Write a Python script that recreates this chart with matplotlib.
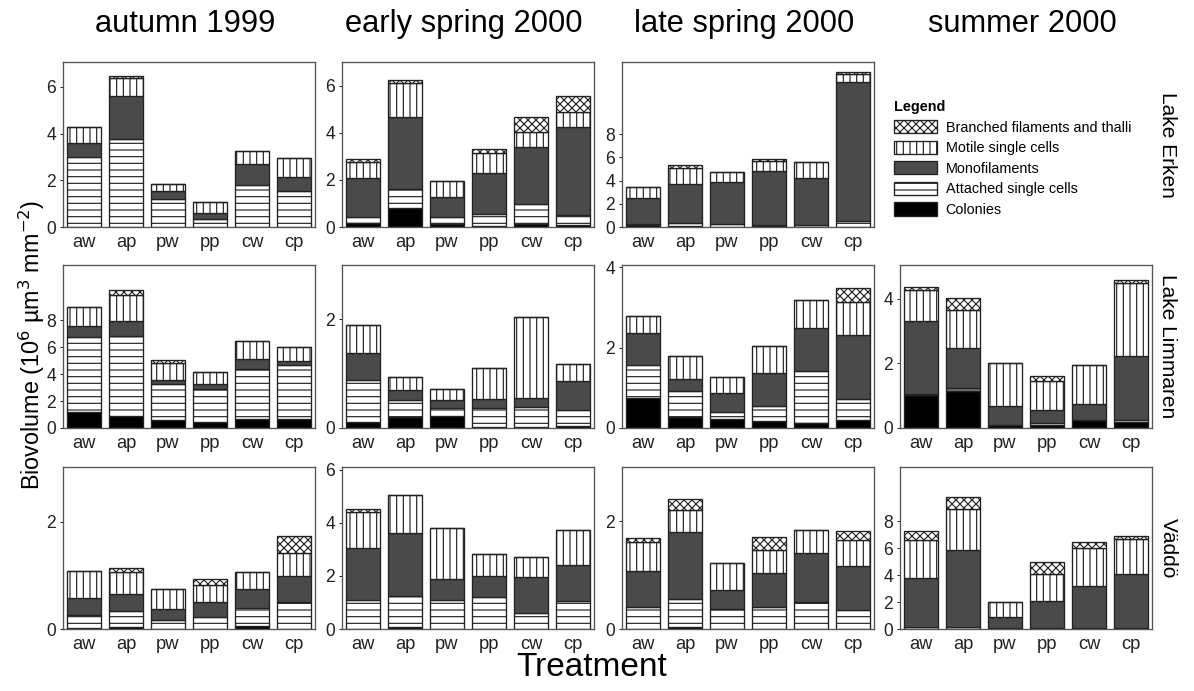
import matplotlib.pyplot as plt
from matplotlib.patches import Patch

plt.rcParams['font.family'] = ['Liberation Sans', 'DejaVu Sans']
plt.rcParams['hatch.linewidth'] = 0.7

treatments = ['aw', 'ap', 'pw', 'pp', 'cw', 'cp']
seasons = ['autumn 1999', 'early spring 2000', 'late spring 2000', 'summer 2000']
lakes = ['Lake Erken', 'Lake Limmaren', 'Väddö']
components = ['Colonies', 'Attached single cells', 'Monofilaments',
              'Motile single cells', 'Branched filaments and thalli']

# segment heights per panel, rows: colonies, attached, mono, motile, branched
erken_autumn = [
    [0, 0, 0, 0, 0, 0],
    [3.0, 3.75, 1.2, 0.35, 1.8, 1.55],
    [0.6, 1.85, 0.35, 0.27, 0.92, 0.6],
    [0.7, 0.8, 0.3, 0.46, 0.53, 0.8],
    [0, 0.05, 0, 0, 0, 0],
]
erken_early = [
    [0.18, 0.82, 0.11, 0.05, 0.12, 0.1],
    [0.24, 0.81, 0.31, 0.49, 0.84, 0.4],
    [1.68, 3.05, 0.86, 1.77, 2.42, 3.73],
    [0.67, 1.42, 0.68, 0.82, 0.66, 0.66],
    [0.11, 0.14, 0, 0.17, 0.64, 0.68],
]
erken_late = [
    [0.2, 0.1, 0, 0.1, 0, 0],
    [0.1, 0.28, 0.22, 0.1, 0.2, 0.52],
    [2.2, 3.33, 3.64, 4.61, 4.0, 11.98],
    [0.92, 1.36, 0.86, 0.84, 1.4, 0.7],
    [0, 0.29, 0, 0.18, 0, 0.15],
]
limmaren_autumn = [
    [1.19, 0.89, 0.57, 0.45, 0.69, 0.7],
    [5.57, 5.91, 2.72, 2.47, 3.71, 3.95],
    [0.81, 1.15, 0.25, 0.37, 0.75, 0.3],
    [1.42, 1.95, 1.31, 0.87, 1.29, 1.06],
    [0, 0.32, 0.2, 0, 0, 0],
]
limmaren_early = [
    [0.11, 0.2, 0.22, 0.02, 0.02, 0.03],
    [0.77, 0.31, 0.15, 0.34, 0.37, 0.31],
    [0.5, 0.19, 0.15, 0.18, 0.16, 0.53],
    [0.52, 0.24, 0.19, 0.57, 1.49, 0.3],
    [0, 0, 0, 0, 0, 0],
]
limmaren_late = [
    [0.75, 0.28, 0.23, 0.17, 0.13, 0.19],
    [0.82, 0.64, 0.17, 0.38, 1.29, 0.53],
    [0.79, 0.29, 0.48, 0.81, 1.06, 1.6],
    [0.43, 0.57, 0.38, 0.67, 0.71, 0.81],
    [0, 0, 0, 0, 0, 0.34],
]
limmaren_summer = [
    [1.02, 1.14, 0.08, 0.1, 0.25, 0.2],
    [0.04, 0.1, 0, 0.05, 0, 0.05],
    [2.26, 1.23, 0.59, 0.4, 0.5, 1.98],
    [0.96, 1.19, 1.33, 0.9, 1.2, 2.27],
    [0.1, 0.36, 0, 0.15, 0, 0.1],
]
vaddo_autumn = [
    [0.02, 0.04, 0, 0, 0.06, 0],
    [0.25, 0.3, 0.17, 0.23, 0.33, 0.5],
    [0.31, 0.31, 0.2, 0.28, 0.35, 0.48],
    [0.5, 0.42, 0.38, 0.31, 0.33, 0.43],
    [0, 0.06, 0, 0.11, 0, 0.33],
]
vaddo_early = [
    [0, 0.08, 0, 0, 0, 0],
    [1.1, 1.17, 1.1, 1.21, 0.59, 1.04],
    [1.96, 2.35, 0.78, 0.79, 1.37, 1.37],
    [1.34, 1.46, 1.91, 0.81, 0.75, 1.3],
    [0.12, 0, 0, 0, 0, 0],
]
vaddo_late = [
    [0, 0.04, 0, 0, 0, 0],
    [0.4, 0.51, 0.37, 0.4, 0.5, 0.35],
    [0.67, 1.24, 0.36, 0.63, 0.91, 0.82],
    [0.54, 0.42, 0.49, 0.44, 0.42, 0.48],
    [0.07, 0.19, 0, 0.24, 0, 0.17],
]
vaddo_summer = [
    [0, 0, 0, 0, 0, 0],
    [0.12, 0.15, 0.05, 0.05, 0.05, 0.05],
    [3.7, 5.76, 0.81, 2.02, 3.13, 4.02],
    [2.78, 3.01, 1.16, 2.0, 2.82, 2.6],
    [0.7, 0.93, 0, 0.89, 0.5, 0.23],
]

# (row, col) -> data, y upper limit, y ticks
panels = {
    (0, 0): (erken_autumn, 7.07, [0, 2, 4, 6]),
    (0, 1): (erken_early, 7.0, [0, 2, 4, 6]),
    (0, 2): (erken_late, 14.2, [0, 2, 4, 6, 8]),
    (1, 0): (limmaren_autumn, 12.1, [0, 2, 4, 6, 8]),
    (1, 1): (limmaren_early, 3.0, [0, 2]),
    (1, 2): (limmaren_late, 4.05, [0, 2, 4]),
    (1, 3): (limmaren_summer, 5.05, [0, 2, 4]),
    (2, 0): (vaddo_autumn, 3.02, [0, 2]),
    (2, 1): (vaddo_early, 6.1, [0, 2, 4, 6]),
    (2, 2): (vaddo_late, 3.0, [0, 2]),
    (2, 3): (vaddo_summer, 12.05, [0, 2, 4, 6, 8]),
}

styles = [
    dict(facecolor='black', hatch=None),
    dict(facecolor='white', hatch='---'),
    dict(facecolor='#4a4a4a', hatch=None),
    dict(facecolor='white', hatch='|||'),
    dict(facecolor='white', hatch='xxxxx'),
]

W, H = 1194, 691
fig = plt.figure(figsize=(W / 120, H / 120), dpi=120)

col_left = [63, 342, 622, 900]
row_span = [(62, 227), (265, 428), (467, 629)]
ax_w = 252

for (r, c), (data, ytop, yt) in panels.items():
    top, bot = row_span[r]
    ax = fig.add_axes([col_left[c] / W, 1 - bot / H, ax_w / W, (bot - top) / H])
    x = range(len(treatments))
    base = [0.0] * len(treatments)
    for layer, st in zip(data, styles):
        ax.bar(x, layer, width=0.83, bottom=base, color=st['facecolor'],
               hatch=st['hatch'], edgecolor='#222222', linewidth=0.8)
        base = [b + v for b, v in zip(base, layer)]
    ax.set_xlim(-0.5, 5.5)
    ax.set_ylim(0, ytop)
    ax.set_yticks(yt)
    ax.set_xticks(list(x))
    ax.set_xticklabels(treatments)
    ax.tick_params(axis='both', length=2, width=0.6, labelsize=10.5, pad=2,
                   colors='#222222')
    ax.tick_params(axis='x', length=0, pad=4, labelsize=11)
    for sp in ax.spines.values():
        sp.set_color('#555555')
        sp.set_linewidth(0.8)

# column titles
for c, s in enumerate(seasons):
    fig.text((col_left[c] + ax_w / 2 - 4) / W, 1 - 24 / H, s, ha='center',
             va='center', fontsize=18.5)

# lake labels on the right
for r, lake in enumerate(lakes):
    top, bot = row_span[r]
    fig.text(1168 / W, 1 - (top + bot) / 2 / H, lake, rotation=-90,
             ha='center', va='center', fontsize=12.5)

fig.text(32 / W, 1 - 345 / H, 'Biovolume (10$^6$ µm$^3$ mm$^{-2}$)',
         rotation=90, ha='center', va='center', fontsize=14)
fig.text(592 / W, 1 - 668 / H, 'Treatment', ha='center', va='center',
         fontsize=20)

# legend in the empty top-right slot
handles = [Patch(facecolor=st['facecolor'], hatch=st['hatch'],
                 edgecolor='#222222', linewidth=0.8) for st in styles]
leg = fig.legend(handles[::-1], components[::-1], loc='upper left',
                 bbox_to_anchor=(884 / W, 1 - 90 / H), frameon=False,
                 title='Legend', alignment='left', fontsize=8.6,
                 title_fontproperties={'weight': 'bold', 'size': 8.6},
                 handlelength=3.0, handleheight=1.05, labelspacing=0.42,
                 handletextpad=0.6, borderpad=0.2)

fig.savefig('out.png', dpi=120)
